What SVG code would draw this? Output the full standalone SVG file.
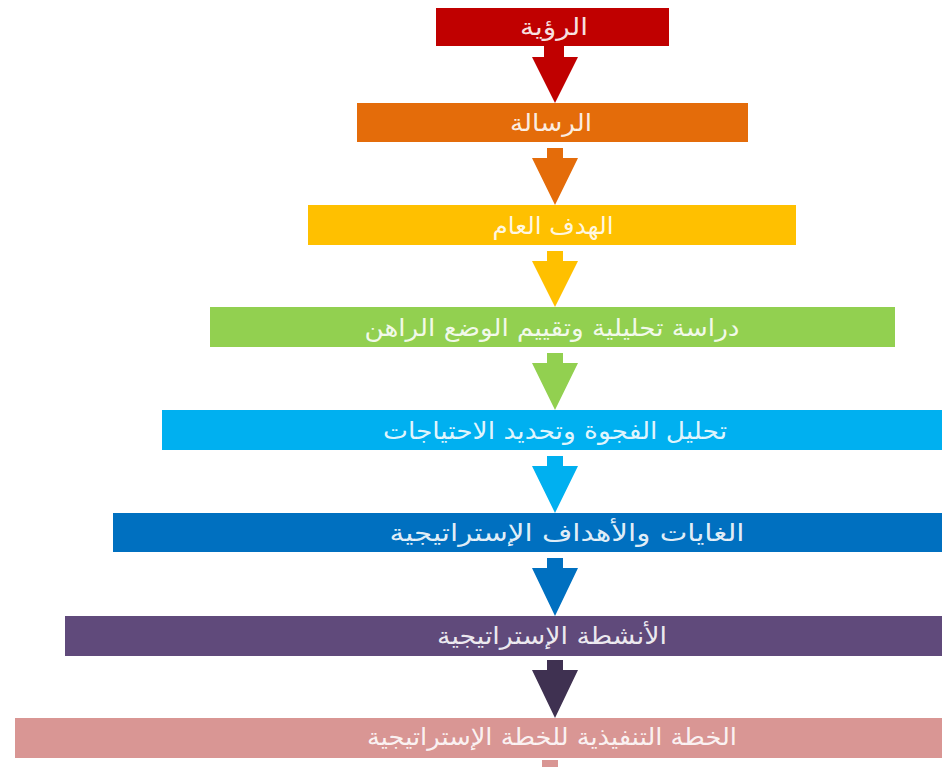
<svg xmlns="http://www.w3.org/2000/svg" width="942" height="767" viewBox="0 0 942 767">
<style>
.lbl{font-family:"DejaVu Sans","Noto Sans",sans-serif;font-size:24px;fill:#ffffff;fill-opacity:0.9;text-anchor:middle;direction:rtl}
</style>
<rect width="942" height="767" fill="#ffffff"/>
<g id="connectors">
<path d="M544,46 H564 V57 H578 L555,103 L532,57 H544 Z" fill="#C00000"/>
<path d="M547,148 H563 V158 H578 L555,205 L532,158 H547 Z" fill="#E46C0A"/>
<path d="M547,251 H563 V261 H578 L555,307 L532,261 H547 Z" fill="#FFC000"/>
<path d="M547,353 H563 V363 H578 L555,410 L532,363 H547 Z" fill="#92D050"/>
<path d="M547,456 H563 V466 H578 L555,513 L532,466 H547 Z" fill="#00B0F0"/>
<path d="M547,558 H563 V568 H578 L555,616 L532,568 H547 Z" fill="#0070C0"/>
<path d="M547,660 H563 V670 H578 L555,718 L532,670 H547 Z" fill="#3F3151"/>
<rect x="542" y="760" width="16" height="7" fill="#D99694"/>
</g>
<g id="n1"><rect x="436" y="8" width="233" height="38" fill="#C00000"/><text class="lbl" x="554" y="35" textLength="68" lengthAdjust="spacingAndGlyphs">الرؤية</text></g>
<g id="n2"><rect x="357" y="103" width="391" height="39" fill="#E46C0A"/><text class="lbl" x="551" y="131" textLength="82" lengthAdjust="spacingAndGlyphs">الرسالة</text></g>
<g id="n3"><rect x="308" y="205" width="488" height="40" fill="#FFC000"/><text class="lbl" x="553" y="234" textLength="121" lengthAdjust="spacingAndGlyphs">الهدف العام</text></g>
<g id="n4"><rect x="210" y="307" width="685" height="40" fill="#92D050"/><text class="lbl" x="552" y="336" textLength="375" lengthAdjust="spacingAndGlyphs">دراسة تحليلية وتقييم الوضع الراهن</text></g>
<g id="n5"><rect x="162" y="410" width="780" height="40" fill="#00B0F0"/><text class="lbl" x="555" y="439" textLength="344" lengthAdjust="spacingAndGlyphs">تحليل الفجوة وتحديد الاحتياجات</text></g>
<g id="n6"><rect x="113" y="513" width="829" height="39" fill="#0070C0"/><text class="lbl" x="567" y="541" textLength="355" lengthAdjust="spacingAndGlyphs">الغايات والأهداف الإستراتيجية</text></g>
<g id="n7"><rect x="65" y="616" width="877" height="40" fill="#604A7B"/><text class="lbl" x="552" y="644" textLength="230" lengthAdjust="spacingAndGlyphs">الأنشطة الإستراتيجية</text></g>
<g id="n8"><rect x="15" y="718" width="927" height="40" fill="#D99694"/><text class="lbl" x="552" y="745" textLength="370" lengthAdjust="spacingAndGlyphs">الخطة التنفيذية للخطة الإستراتيجية</text></g>
</svg>
